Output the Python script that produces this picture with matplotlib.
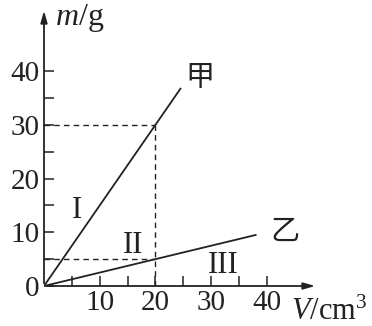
import numpy as np
import matplotlib.pyplot as plt

# data
v_jia = [0, 24.5]
m_jia = [0, 36.75]
v_yi = [0, 38]
m_yi = [0, 9.5]
xticks = [10, 20, 30, 40]
yticks = [0, 10, 20, 30, 40]
minor = [5, 15, 25, 35]

plt.rcParams['font.family'] = ['Liberation Serif', 'Noto Sans CJK SC']
plt.rcParams['mathtext.fontset'] = 'custom'
plt.rcParams['mathtext.rm'] = 'Liberation Serif'
plt.rcParams['mathtext.it'] = 'Liberation Serif:italic'

fig = plt.figure(figsize=(3.72, 3.26), dpi=100)
W, H = 372, 326
x0, y0 = 44, 286
px_x, px_y = 5.57, 5.37
x1, y1 = 318, 8
ax = fig.add_axes([x0 / W, (H - y0) / H, (x1 - x0) / W, (y0 - y1) / H])
ax.set_xlim(0, (x1 - x0) / px_x)
ax.set_ylim(0, (y0 - y1) / px_y)

for s in ax.spines.values():
    s.set_visible(False)

k = '#222222'
lw = 1.3
# axes with arrows
ax.annotate('', xy=(1, 0), xytext=(0, 0), xycoords='axes fraction',
            arrowprops=dict(arrowstyle='-|>,head_length=0.7,head_width=0.2', color=k, lw=lw))
ax.annotate('', xy=(0, 1), xytext=(0, 0), xycoords='axes fraction',
            arrowprops=dict(arrowstyle='-|>,head_length=0.7,head_width=0.2', color=k, lw=lw))

ax.set_xticks(xticks)
ax.set_yticks(yticks)
ax.set_xticks(minor, minor=True)
ax.set_yticks(minor, minor=True)
ax.tick_params(which='both', direction='in', length=7, width=1.1, color=k,
               labelsize=21, labelcolor=k, pad=3)

ax.plot(v_jia, m_jia, color=k, lw=lw)
ax.plot(v_yi, m_yi, color=k, lw=lw)

# dashed guides
ax.plot([0, 20], [30, 30], color=k, lw=1.0, ls=(0, (4, 3)))
ax.plot([20, 20], [0, 30], color=k, lw=1.0, ls=(0, (4, 3)))
ax.plot([0, 20], [5, 5], color=k, lw=1.0, ls=(0, (4, 3)))

ax.text(28.0, 38.8, '甲', fontsize=21, family='Noto Sans CJK SC', ha='center', va='center', color=k)
ax.text(43.2, 10.0, '乙', fontsize=21, family='Noto Sans CJK SC', ha='center', va='center', color=k)
ax.text(6.0, 14.0, 'I', fontsize=22, ha='center', va='center', color=k)
ax.text(16.0, 7.5, 'II', fontsize=22, ha='center', va='center', color=k)
ax.text(32.2, 3.9, 'III', fontsize=22, ha='center', va='center', color=k)

ax.text(2.0, 50.0, '$m$/g', fontsize=23, ha='left', va='center', color=k,
        clip_on=False)
ax.text(44.3, -5.0, '$V$/cm$^3$', fontsize=22, ha='left', va='center', color=k,
        clip_on=False)

fig.savefig('out.png', dpi=100)
